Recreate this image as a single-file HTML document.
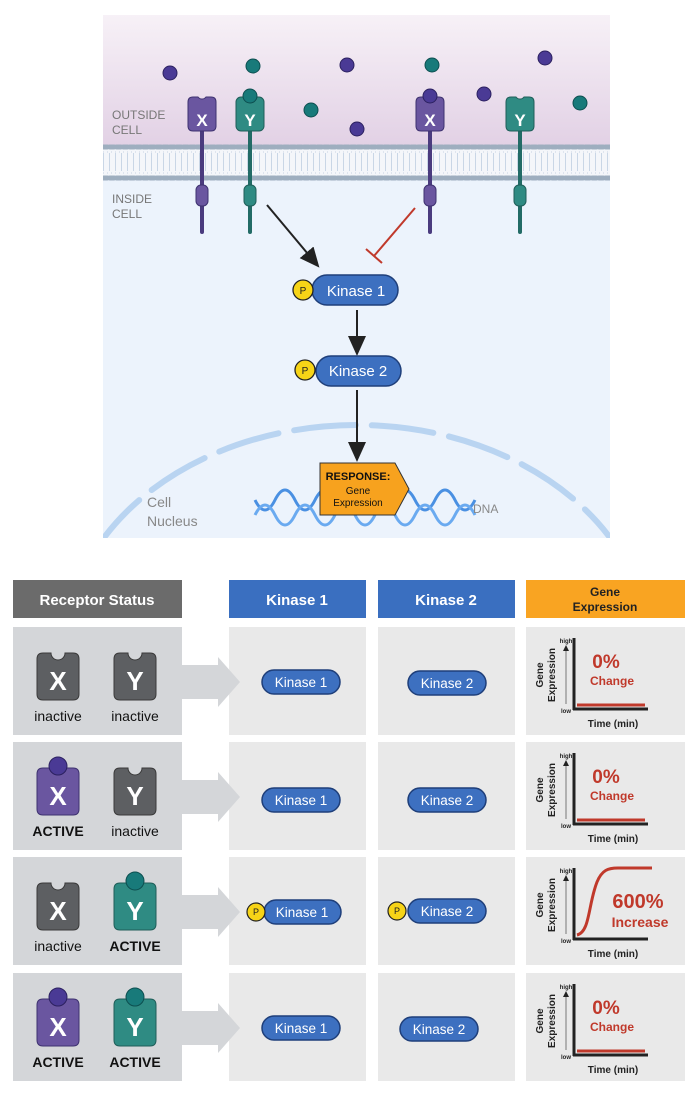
<!DOCTYPE html>
<html><head><meta charset="utf-8"><style>
html,body{margin:0;padding:0;background:#fff}
svg{display:block}
text{font-family:"Liberation Sans",sans-serif}
</style></head><body>
<svg width="700" height="1100" viewBox="0 0 700 1100" xmlns="http://www.w3.org/2000/svg">
<defs>
<linearGradient id="out" x1="0" y1="0" x2="0" y2="1">
<stop offset="0" stop-color="#f7f1f7"/><stop offset="1" stop-color="#e2d1e5"/>
</linearGradient>
<clipPath id="panel"><rect x="103" y="15" width="507" height="523"/></clipPath>
<path id="rh" d="M0,6 q0,-6 6,-6 h8 a7,7 0 0 0 14,0 h8 q6,0 6,6 v35 q0,6 -6,6 h-30 q-6,0 -6,-6 z"/>
<path id="rs" d="M0,5 q0,-5 5,-5 h5 a5,5 0 0 0 8,0 h5 q5,0 5,5 v24 q0,5 -5,5 h-18 q-5,0 -5,-5 z"/>
<marker id="ah" markerWidth="6" markerHeight="6" refX="5" refY="3" orient="auto" markerUnits="userSpaceOnUse"><path d="M0,0 L6,3 L0,6 z" fill="#222"/></marker>
<marker id="ah2" markerWidth="20" markerHeight="20" refX="10" refY="9" orient="auto" markerUnits="userSpaceOnUse"><path d="M0,0 L20,9 L0,18 z" fill="#222"/></marker>
</defs>

<!-- top panel -->
<g clip-path="url(#panel)">
<rect x="103" y="15" width="507" height="523" fill="#ecf3fc"/>
<rect x="103" y="15" width="507" height="130" fill="url(#out)"/>
<rect x="103" y="145" width="507" height="35" fill="#f4f6fa"/>
<path d="M103,152 L610,152 M103,173 L610,173" stroke="#c7d3e3" stroke-width="1" stroke-dasharray="1 3"/>
<line x1="103" y1="147" x2="610" y2="147" stroke="#9eaebf" stroke-width="5" stroke-dasharray="4.5 2.2" stroke-linecap="round"/>
<line x1="103" y1="178" x2="610" y2="178" stroke="#9eaebf" stroke-width="5" stroke-dasharray="4.5 2.2" stroke-linecap="round"/>
<line x1="103" y1="162" x2="610" y2="162" stroke="#c9d6e6" stroke-width="18" stroke-dasharray="1 5"/>
<ellipse cx="357" cy="650" rx="292" ry="225" fill="none" stroke="#b9d4f1" stroke-width="6" stroke-dasharray="62 16" stroke-dashoffset="10" stroke-linecap="round"/>
</g>

<text x="112" y="119" font-size="12" fill="#777">OUTSIDE</text>
<text x="112" y="134" font-size="12" fill="#777">CELL</text>
<text x="112" y="203" font-size="12" fill="#777">INSIDE</text>
<text x="112" y="218" font-size="12" fill="#777">CELL</text>

<!-- receptors -->
<g stroke-width="4" stroke-linecap="round">
<line x1="202" y1="130" x2="202" y2="232" stroke="#4a3b7e"/>
<line x1="250" y1="130" x2="250" y2="232" stroke="#226b66"/>
<line x1="430" y1="130" x2="430" y2="232" stroke="#4a3b7e"/>
<line x1="520" y1="130" x2="520" y2="232" stroke="#226b66"/>
</g>
<rect x="196" y="185" width="12" height="21" rx="5" fill="#6a56a0" stroke="#3e3270"/>
<rect x="244" y="185" width="12" height="21" rx="5" fill="#2f8b83" stroke="#1f5e59"/>
<rect x="424" y="185" width="12" height="21" rx="5" fill="#6a56a0" stroke="#3e3270"/>
<rect x="514" y="185" width="12" height="21" rx="5" fill="#2f8b83" stroke="#1f5e59"/>
<use href="#rs" x="188" y="97" fill="#6a56a0" stroke="#3e3270"/>
<g transform="translate(236,97)"><rect width="28" height="34" rx="5" fill="#2f8b83" stroke="#1f5e59"/></g>
<use href="#rs" x="416" y="97" fill="#6a56a0" stroke="#3e3270"/>
<use href="#rs" x="506" y="97" fill="#2f8b83" stroke="#1f5e59"/>
<g font-size="17" font-weight="bold" fill="#fff" text-anchor="middle">
<text x="202" y="126">X</text><text x="250" y="126">Y</text><text x="430" y="126">X</text><text x="520" y="126">Y</text>
</g>
<g fill="#4a3a95" stroke="#2c2160" stroke-width="1">
<circle cx="170" cy="73" r="7"/><circle cx="347" cy="65" r="7"/><circle cx="357" cy="129" r="7"/><circle cx="484" cy="94" r="7"/><circle cx="545" cy="58" r="7"/><circle cx="430" cy="96" r="7"/>
</g>
<g fill="#187a7a" stroke="#0d4f50" stroke-width="1">
<circle cx="253" cy="66" r="7"/><circle cx="250" cy="96" r="7"/><circle cx="311" cy="110" r="7"/><circle cx="432" cy="65" r="7"/><circle cx="580" cy="103" r="7"/>
</g>

<!-- arrows -->
<line x1="267" y1="205" x2="313" y2="260" stroke="#222" stroke-width="2" marker-end="url(#ah2)"/>
<line x1="415" y1="208" x2="374" y2="256" stroke="#c0392b" stroke-width="2"/>
<line x1="366" y1="249" x2="382" y2="263" stroke="#c0392b" stroke-width="2"/>
<line x1="357" y1="310" x2="357" y2="346" stroke="#222" stroke-width="2" marker-end="url(#ah2)"/>
<line x1="357" y1="390" x2="357" y2="452" stroke="#222" stroke-width="2" marker-end="url(#ah2)"/>

<!-- kinases -->
<rect x="312" y="275" width="86" height="30" rx="15" fill="#3d70c0" stroke="#1f3f7a" stroke-width="1.5"/>
<circle cx="303" cy="290" r="10" fill="#f7d417" stroke="#222" stroke-width="1.3"/>
<text x="303" y="294" font-size="10" text-anchor="middle" fill="#222">P</text>
<text x="356" y="296" font-size="15" fill="#fff" text-anchor="middle">Kinase 1</text>
<rect x="316" y="356" width="85" height="30" rx="15" fill="#3d70c0" stroke="#1f3f7a" stroke-width="1.5"/>
<circle cx="305" cy="370" r="10" fill="#f7d417" stroke="#222" stroke-width="1.3"/>
<text x="305" y="374" font-size="10" text-anchor="middle" fill="#222">P</text>
<text x="358" y="376" font-size="15" fill="#fff" text-anchor="middle">Kinase 2</text>

<text x="147" y="507" font-size="14" fill="#888">Cell</text>
<text x="147" y="526" font-size="14" fill="#888">Nucleus</text>

<!-- DNA -->
<g fill="none" stroke="#4a90e2" stroke-width="3">
<path d="M255,500 q10,20 20,0 t20,0 t20,0 t20,0 t20,0 t20,0 t20,0 t20,0 t20,0 t20,0 t20,0"/>
<path d="M255,515 q10,-20 20,0 t20,0 t20,0 t20,0 t20,0 t20,0 t20,0 t20,0 t20,0 t20,0 t20,0" stroke="#6aaaf0"/>
</g>
<text x="473" y="513" font-size="12" fill="#888">DNA</text>
<path d="M320,463 H395 L409,489 L395,515 H320 Z" fill="#f7a21e" stroke="#333" stroke-width="1"/>
<text x="358" y="480" font-size="11" font-weight="bold" text-anchor="middle" fill="#111">RESPONSE:</text>
<text x="358" y="494" font-size="10" text-anchor="middle" fill="#111">Gene</text>
<text x="358" y="506" font-size="10" text-anchor="middle" fill="#111">Expression</text>

<!-- table headers -->
<rect x="13" y="580" width="169" height="38" fill="#6b6b6b"/>
<text x="97" y="605" font-size="15" font-weight="bold" fill="#fff" text-anchor="middle">Receptor Status</text>
<rect x="229" y="580" width="137" height="38" fill="#3a6fc0"/>
<text x="297" y="605" font-size="15" font-weight="bold" fill="#fff" text-anchor="middle">Kinase 1</text>
<rect x="378" y="580" width="137" height="38" fill="#3a6fc0"/>
<text x="446" y="605" font-size="15" font-weight="bold" fill="#fff" text-anchor="middle">Kinase 2</text>
<rect x="526" y="580" width="159" height="38" fill="#f9a422"/>
<text x="605" y="596" font-size="12" font-weight="bold" fill="#222" text-anchor="middle">Gene</text>
<text x="605" y="611" font-size="12" font-weight="bold" fill="#222" text-anchor="middle">Expression</text>

<!-- rows -->
<g id="row1">
<rect x="13" y="627" width="169" height="108" fill="#d4d6d9"/>
<rect x="229" y="627" width="137" height="108" fill="#e9e9e9"/>
<rect x="378" y="627" width="137" height="108" fill="#e9e9e9"/>
<rect x="526" y="627" width="159" height="108" fill="#e9e9e9"/>
<path d="M182,665 H218 V657 L240,682 L218,707 V699 H182 Z" fill="#d4d6d9"/>
</g>
<use href="#row1" y="115"/>
<use href="#row1" y="230"/>
<use href="#row1" y="346"/>

<!-- receptor icons -->
<g stroke-width="1">
<use href="#rh" x="37" y="653" fill="#5d5f62" stroke="#3a3a3a"/>
<use href="#rh" x="114" y="653" fill="#5d5f62" stroke="#3a3a3a"/>
<use href="#rh" x="37" y="768" fill="#6a56a0" stroke="#3e3270"/>
<use href="#rh" x="114" y="768" fill="#5d5f62" stroke="#3a3a3a"/>
<use href="#rh" x="37" y="883" fill="#5d5f62" stroke="#3a3a3a"/>
<use href="#rh" x="114" y="883" fill="#2f8b83" stroke="#1f5e59"/>
<use href="#rh" x="37" y="999" fill="#6a56a0" stroke="#3e3270"/>
<use href="#rh" x="114" y="999" fill="#2f8b83" stroke="#1f5e59"/>
</g>
<circle cx="58" cy="766" r="9" fill="#4a3a95" stroke="#2c2160"/>
<circle cx="135" cy="881" r="9" fill="#187a7a" stroke="#0d4f50"/>
<circle cx="58" cy="997" r="9" fill="#4a3a95" stroke="#2c2160"/>
<circle cx="135" cy="997" r="9" fill="#187a7a" stroke="#0d4f50"/>
<g font-size="26" font-weight="bold" fill="#fff" text-anchor="middle">
<text x="58" y="690">X</text><text x="135" y="690">Y</text>
<text x="58" y="805">X</text><text x="135" y="805">Y</text>
<text x="58" y="920">X</text><text x="135" y="920">Y</text>
<text x="58" y="1036">X</text><text x="135" y="1036">Y</text>
</g>
<g font-size="14" fill="#111" text-anchor="middle">
<text x="58" y="721">inactive</text><text x="135" y="721">inactive</text>
<text x="58" y="836" font-weight="bold">ACTIVE</text><text x="135" y="836">inactive</text>
<text x="58" y="951">inactive</text><text x="135" y="951" font-weight="bold">ACTIVE</text>
<text x="58" y="1067" font-weight="bold">ACTIVE</text><text x="135" y="1067" font-weight="bold">ACTIVE</text>
</g>

<!-- kinase pills -->
<g fill="#3d70c0" stroke="#1f3f7a" stroke-width="1.5">
<rect x="262" y="670" width="78" height="24" rx="12"/>
<rect x="408" y="671" width="78" height="24" rx="12"/>
<rect x="262" y="788" width="78" height="24" rx="12"/>
<rect x="408" y="788" width="78" height="24" rx="12"/>
<rect x="264" y="900" width="77" height="24" rx="12"/>
<rect x="408" y="899" width="78" height="24" rx="12"/>
<rect x="262" y="1016" width="78" height="24" rx="12"/>
<rect x="400" y="1017" width="78" height="24" rx="12"/>
</g>
<g fill="#f7d417" stroke="#222" stroke-width="1.2">
<circle cx="256" cy="912" r="9"/><circle cx="397" cy="911" r="9"/>
</g>
<g font-size="9" fill="#222" text-anchor="middle"><text x="256" y="915">P</text><text x="397" y="914">P</text></g>
<g font-size="13.5" fill="#fff" text-anchor="middle">
<text x="301" y="687">Kinase 1</text><text x="447" y="688">Kinase 2</text>
<text x="301" y="805">Kinase 1</text><text x="447" y="805">Kinase 2</text>
<text x="302" y="917">Kinase 1</text><text x="447" y="916">Kinase 2</text>
<text x="301" y="1033">Kinase 1</text><text x="439" y="1034">Kinase 2</text>
</g>

<!-- charts -->
<g id="chart">
<line x1="574" y1="638" x2="574" y2="710" stroke="#222" stroke-width="3"/>
<line x1="573" y1="709" x2="648" y2="709" stroke="#222" stroke-width="3"/>
<line x1="566" y1="704" x2="566" y2="646" stroke="#777" stroke-width="1" marker-end="url(#ah)"/>
<text x="566" y="643" font-size="6" font-weight="bold" text-anchor="middle" fill="#222">high</text>
<text x="566" y="713" font-size="6" font-weight="bold" text-anchor="middle" fill="#222">low</text>
<text transform="translate(543,675) rotate(-90)" font-size="10" font-weight="bold" text-anchor="middle" fill="#222">Gene</text>
<text transform="translate(555,675) rotate(-90)" font-size="10" font-weight="bold" text-anchor="middle" fill="#222">Expression</text>
<text x="613" y="727" font-size="10" font-weight="bold" text-anchor="middle" fill="#222">Time (min)</text>
</g>
<use href="#chart" y="115"/>
<use href="#chart" y="230"/>
<use href="#chart" y="346"/>
<g stroke="#c0392b" stroke-width="3" fill="none">
<line x1="577" y1="705" x2="645" y2="705"/>
<line x1="577" y1="820" x2="645" y2="820"/>
<path d="M577,935 C590,932 588,905 597,882 C602,870 608,868 618,868 H652"/>
<line x1="577" y1="1051" x2="645" y2="1051"/>
</g>
<g fill="#c0392b" font-weight="bold" text-anchor="middle">
<text x="606" y="668" font-size="19">0%</text><text x="612" y="685" font-size="12">Change</text>
<text x="606" y="783" font-size="19">0%</text><text x="612" y="800" font-size="12">Change</text>
<text x="638" y="908" font-size="20">600%</text><text x="640" y="927" font-size="14">Increase</text>
<text x="606" y="1014" font-size="19">0%</text><text x="612" y="1031" font-size="12">Change</text>
</g>
</svg>
</body></html>
